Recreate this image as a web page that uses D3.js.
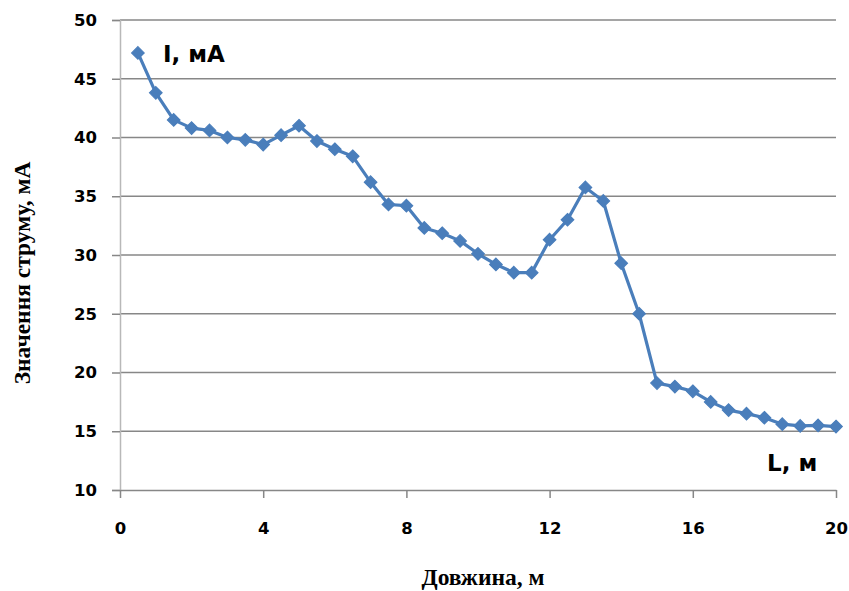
<!DOCTYPE html>
<html><head><meta charset="utf-8">
<script src="https://cdn.jsdelivr.net/npm/d3@7"></script>
<style>body{margin:0;background:#fff}</style>
</head><body><div id="chart"></div>
<script>
const lengths = [0.5,1,1.5,2,2.5,3,3.5,4,4.5,5,5.5,6,6.5,7,7.5,8,8.5,9,9.5,10,10.5,11,11.5,12,12.5,13,13.5,14,14.5,15,15.5,16,16.5,17,17.5,18,18.5,19,19.5,20];
const currents = [47.2,43.8,41.5,40.8,40.6,40.0,39.8,39.4,40.2,41.0,39.7,39.0,38.4,36.2,34.3,34.2,32.3,31.85,31.2,30.1,29.2,28.5,28.5,31.3,33.0,35.75,34.6,29.3,25.0,19.1,18.8,18.4,17.5,16.8,16.5,16.15,15.6,15.45,15.5,15.4];
const xTicks = [0,4,8,12,16,20];
const yTicks = [10,15,20,25,30,35,40,45,50];

const W = 849, H = 591;
const sansBold = "'DejaVu Sans', Verdana, sans-serif";
const serif = "'Liberation Serif', 'DejaVu Serif', serif";
const svg = d3.select("#chart").append("svg").attr("width", W).attr("height", H);
const x = d3.scaleLinear().domain([0,20]).range([120,836]);
const y = d3.scaleLinear().domain([10,50]).range([490,20]);

// gridlines
svg.append("g").selectAll("line").data(yTicks.filter(d=>d>10)).join("line")
  .attr("x1", x(0)).attr("x2", x(20)).attr("y1", d=>y(d)).attr("y2", d=>y(d))
  .attr("stroke", "#878787").attr("stroke-width", 1.5);

// y axis
const yAxis = svg.append("g").attr("transform", `translate(${x(0)},0)`)
  .call(d3.axisLeft(y).tickValues(yTicks).tickSize(8).tickPadding(15));
yAxis.select(".domain").attr("stroke", "#b8b8b8").attr("stroke-width", 1.5);
yAxis.selectAll(".tick line").attr("stroke", "#878787").attr("stroke-width", 1.5);
yAxis.selectAll("text").attr("font-family", sansBold).attr("font-weight", "bold")
  .attr("font-size", 16.5).attr("fill", "#000");

// x axis
const xAxis = svg.append("g").attr("transform", `translate(0,${y(10)})`)
  .call(d3.axisBottom(x).tickValues(xTicks).tickSize(8).tickSizeOuter(0).tickPadding(24));
xAxis.select(".domain").attr("stroke", "#878787").attr("stroke-width", 1.5);
xAxis.selectAll(".tick line").attr("stroke", "#878787").attr("stroke-width", 1.5);
xAxis.selectAll("text").attr("font-family", sansBold).attr("font-weight", "bold")
  .attr("font-size", 16.5).attr("fill", "#000");

// line
const data = lengths.map((l,i)=>({l, v: currents[i]}));
svg.append("path").datum(data)
  .attr("d", d3.line().x(d=>x(d.l)).y(d=>y(d.v)))
  .attr("fill", "none").attr("stroke", "#4a7ebb").attr("stroke-width", 3.2).attr("stroke-linejoin", "round");
svg.append("g").selectAll("path").data(data).join("path")
  .attr("transform", d=>`translate(${x(d.l)},${y(d.v)})`)
  .attr("d", d3.symbol().type(d3.symbolDiamond2).size(100))
  .attr("fill", "#4a7ebb").attr("stroke", "#4a7ebb").attr("stroke-width", 1.2);

// in-plot labels
svg.append("text").attr("x", 163).attr("y", 62).text("I, мА")
  .attr("font-family", sansBold).attr("font-weight", "bold").attr("font-size", 23);
svg.append("text").attr("x", 767).attr("y", 471).text("L, м")
  .attr("font-family", sansBold).attr("font-weight", "bold").attr("font-size", 23);

// axis titles
svg.append("text").attr("transform", "translate(30,273) rotate(-90)").attr("text-anchor", "middle")
  .text("Значення струму, мА")
  .attr("font-family", serif).attr("font-weight", "bold").attr("font-size", 23.5);
svg.append("text").attr("x", 483).attr("y", 585).attr("text-anchor", "middle")
  .text("Довжина, м")
  .attr("font-family", serif).attr("font-weight", "bold").attr("font-size", 23.5);
</script>
</body></html>
